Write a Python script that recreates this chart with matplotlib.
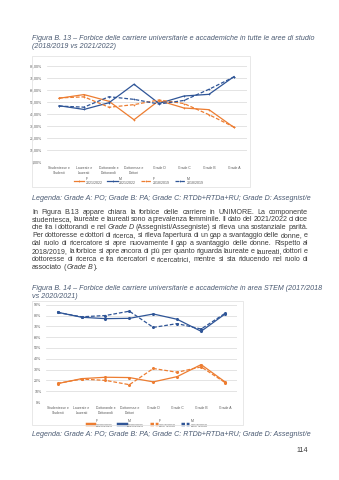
import matplotlib
matplotlib.use('Agg')
import matplotlib.pyplot as plt
from matplotlib.patches import Rectangle
from matplotlib.lines import Line2D

plt.rcParams['font.family'] = ['Liberation Sans', 'DejaVu Sans']

W, H = 339, 480

categories = ['Studentesse e\nStudenti', 'Laureate e\nLaureati', 'Dottorande e\nDottorandi',
              'Dottoresse e\nDottori', 'Grade D', 'Grade C', 'Grade B', 'Grade A']

# Figura B.13 - tutte le aree (%)
f_2122 = [53.1, 56.2, 50.6, 35.2, 51.2, 45.0, 43.6, 28.8]
m_2122 = [46.9, 43.8, 49.4, 64.8, 48.8, 55.0, 56.4, 71.2]
f_1819 = [53.4, 54.3, 45.6, 47.8, 51.7, 48.7, 39.4, 29.1]
m_1819 = [46.6, 45.7, 54.4, 52.2, 48.3, 51.3, 60.6, 70.9]

# Figura B.14 - area STEM (%)
f_2021 = [17.0, 21.6, 22.9, 22.6, 18.6, 23.5, 34.6, 18.6]
m_2021 = [83.0, 78.4, 77.1, 77.4, 81.4, 76.5, 65.4, 81.4]
f_1718 = [17.2, 21.2, 20.0, 16.0, 31.0, 27.5, 32.5, 18.0]
m_1718 = [82.8, 78.8, 80.0, 84.0, 69.0, 72.5, 67.5, 82.0]

caption_1 = ['Figura B. 13 \u2013 Forbice delle carriere universitarie e accademiche in tutte le aree di studio',
             '(2018/2019 vs 2021/2022)']
caption_2 = ['Figura B. 14 \u2013 Forbice delle carriere universitarie e accademiche in area STEM (2017/2018',
             'vs 2020/2021)']
legenda = 'Legenda: Grade A: PO; Grade B: PA; Grade C: RTDb+RTDa+RU; Grade D: Assegnist/e'

paragraph = [
    [('In Figura B.13 appare chiara la forbice delle carriere in UNIMORE. La componente', False)],
    [('studentesca, laureate e laureati sono a prevalenza femminile. Il dato del 2021/2022 ci dice', False)],
    [('che fra i dottorandi e nel ', False), ('Grade D', True),
     (' (Assegnisti/Assegniste) si rileva una sostanziale parit\u00e0.', False)],
    [("Per dottoresse e dottori di ricerca, si rileva l'apertura di un gap a svantaggio delle donne, e", False)],
    [('dal ruolo di ricercatore si apre nuovamente il gap a svantaggio delle donne. Rispetto al', False)],
    [('2018/2019, la forbice si apre ancora di pi\u00f9 per quanto riguarda laureate e laureati, dottori e', False)],
    [('dottoresse di ricerca e fra ricercatori e ricercatrici, mentre si sta riducendo nel ruolo di', False)],
    [('associato (', False), ('Grade B', True), (').', False)],
]

ORANGE = '#ED7D31'
BLUE = '#2F5597'
CAPTION = '#4A5A72'
BODY = '#3C3C3C'
GRID = '#D9D9D9'
FS = 5.1

fig = plt.figure(figsize=(W / 100, H / 100), dpi=100)
fig.patch.set_facecolor('white')


def fx(x):
    return x / W


def fy(y):
    return 1 - y / H


def put(x, y, s, **kw):
    return fig.text(fx(x), fy(y), s, va='center_baseline', **kw)


renderer = fig.canvas.get_renderer()


def text_width(s, italic, size):
    t = fig.text(0, 0, s, fontsize=size, style='italic' if italic else 'normal')
    w = t.get_window_extent(renderer).width
    t.remove()
    return w


def split_words(segments):
    words = []
    new_word = True
    for text, it in segments:
        for i, p in enumerate(text.split(' ')):
            if i > 0:
                new_word = True
            if p == '':
                continue
            if new_word or not words:
                words.append([(p, it)])
            else:
                words[-1].append((p, it))
            new_word = False
    return words


def justified(lines, x0, x1, y0, dy, size, color):
    space = text_width('a a', False, size) - text_width('aa', False, size)
    for n, segs in enumerate(lines):
        words = split_words(segs)
        widths = [sum(text_width(p, it, size) for p, it in w) for w in words]
        last = n == len(lines) - 1
        if last or len(words) < 2:
            gap = space
        else:
            gap = (x1 - x0 - sum(widths)) / (len(words) - 1)
        x = x0
        for w, wd in zip(words, widths):
            xx = x
            for p, it in w:
                put(xx, y0 + n * dy, p, fontsize=size, color=color,
                    style='italic' if it else 'normal')
                xx += text_width(p, it, size)
            x += wd + gap


def chart_box(x0, y0, x1, y1):
    fig.patches.append(Rectangle((fx(x0), fy(y1)), (x1 - x0) / W, (y1 - y0) / H,
                                 transform=fig.transFigure, fill=False,
                                 edgecolor='#E4E4E4', linewidth=0.6))


def style_axes(ax, ymax, fmt):
    ax.set_xlim(-0.5, 7.5)
    ax.set_ylim(0, ymax)
    ticks = list(range(0, ymax + 1, 10))
    ax.set_yticks(ticks)
    ax.set_yticklabels([fmt(v) for v in ticks], fontsize=2.6, color='#595959')
    ax.set_xticks(range(len(categories)))
    ax.set_xticklabels(categories, fontsize=2.4, color='#595959', linespacing=1.3)
    ax.tick_params(length=0, pad=3)
    for s in ax.spines.values():
        s.set_visible(False)
    ax.grid(axis='y', color=GRID, linewidth=0.5)
    ax.set_axisbelow(True)
    ax.patch.set_alpha(0)


# --- Figura B.13 ---
for i, line in enumerate(caption_1):
    put(32, 38 + i * 8, line, fontsize=FS, style='italic', color=CAPTION)

chart_box(32, 56, 250, 187)
ax1 = fig.add_axes([fx(46.5), fy(162), 200 / W, 96 / H])
style_axes(ax1, 80, lambda v: f'{v},00%')
x = range(len(categories))
ax1.plot(x, f_2122, color=ORANGE, lw=0.9, marker='+', ms=2, mew=0.5, label='F\n2021/2022')
ax1.plot(x, m_2122, color=BLUE, lw=0.9, marker='+', ms=2, mew=0.5, label='M\n2021/2022')
ax1.plot(x, f_1819, color=ORANGE, lw=0.9, ls=(0, (3, 1.5)), marker='+', ms=2, mew=0.5, label='F\n2018/2019')
ax1.plot(x, m_1819, color=BLUE, lw=0.9, ls=(0, (3, 1.5)), marker='+', ms=2, mew=0.5, label='M\n2018/2019')
ax1.legend(loc='center', bbox_to_anchor=(0.46, -0.2), ncol=4, fontsize=2.5, frameon=False,
           handlelength=3, columnspacing=1.4, handletextpad=0.4, labelcolor='#595959')

put(32, 197, legenda, fontsize=FS, style='italic', color=CAPTION)

justified(paragraph, 32, 308, 211, 7.9, FS, BODY)

# --- Figura B.14 ---
for i, line in enumerate(caption_2):
    put(32, 288 + i * 8, line, fontsize=FS, style='italic', color=CAPTION)

chart_box(32, 301, 243, 425)
ax2 = fig.add_axes([fx(45.7), fy(402), 191.3 / W, 97.3 / H])
style_axes(ax2, 90, lambda v: f'{v}%')
ax2.plot(x, f_2021, color=ORANGE, lw=0.9, marker='o', ms=1.2)
ax2.plot(x, m_2021, color=BLUE, lw=0.9, marker='o', ms=1.2)
ax2.plot(x, f_1718, color=ORANGE, lw=0.9, ls=(0, (3, 1.5)), marker='o', ms=1.2)
ax2.plot(x, m_1718, color=BLUE, lw=0.9, ls=(0, (3, 1.5)), marker='o', ms=1.2)
handles = [Line2D([], [], color=ORANGE, lw=2.5),
           Line2D([], [], color=BLUE, lw=2.5),
           Line2D([], [], color=ORANGE, lw=2.5, ls=(0, (1, 0.5))),
           Line2D([], [], color=BLUE, lw=2.5, ls=(0, (1, 0.5)))]
ax2.legend(handles, ['F\n2020/2021', 'M\n2020/2021', 'F\n2017/2018', 'M\n2017/2018'],
           loc='center', bbox_to_anchor=(0.53, -0.22), ncol=4, fontsize=2.5, frameon=False,
           handlelength=2.2, columnspacing=1.6, handletextpad=0.4, labelcolor='#595959')

put(32, 434, legenda, fontsize=FS, style='italic', color=CAPTION)

put(308, 449, '114', fontsize=FS, color=BODY, ha='right')

fig.savefig('out.png', dpi=100)
